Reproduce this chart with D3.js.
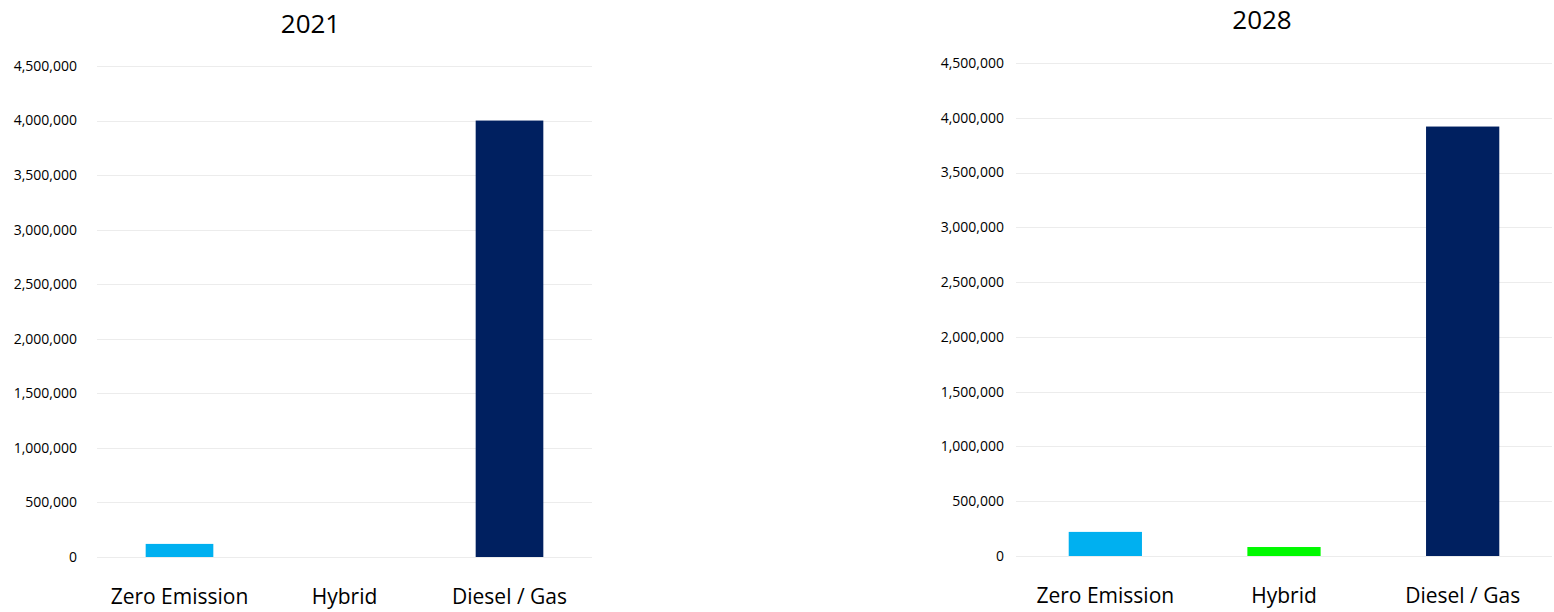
<!DOCTYPE html>
<html>
<head>
<meta charset="utf-8">
<script src="https://cdn.jsdelivr.net/npm/d3@7"></script>
<style>
body { margin: 0; background: #fff; }
svg { font-family: "Open Sans", sans-serif; }
.grid line { stroke: #ececec; stroke-width: 1; }
.tick-label { font-size: 14px; fill: #000; }
.cat-label { font-size: 21px; fill: #000; }
.title { font-size: 26px; fill: #000; }
</style>
</head>
<body>
<script>
const categories = ["Zero Emission", "Hybrid", "Diesel / Gas"]
const values2021 = [120000, 0, 4000000]
const values2028 = [220000, 82000, 3920000]
const yTicks = [0, 500000, 1000000, 1500000, 2000000, 2500000, 3000000, 3500000, 4000000, 4500000]
const barColors = ["#00b0f0", "#00f900", "#002060"]

const width = 1554
const height = 612
const svg = d3.select("body")
    .append("svg")
    .attr("width", width)
    .attr("height", height)

const fmt = d3.format(",")

function drawChart(title, values, box) {
    let x = d3.scaleBand()
        .domain(categories)
        .range([box.left, box.right])
        .paddingInner(0.59)
        .paddingOuter(0.295)
    let y = d3.scaleLinear()
        .domain([0, 4500000])
        .range([box.bottom, box.top])

    let g = svg.append("g")

    g.append("g")
        .attr("class", "grid")
        .selectAll("line")
        .data(yTicks)
        .join("line")
        .attr("x1", box.left)
        .attr("x2", box.right)
        .attr("y1", d => Math.round(y(d)) + 0.5)
        .attr("y2", d => Math.round(y(d)) + 0.5)

    g.append("g")
        .selectAll("text")
        .data(yTicks)
        .join("text")
        .attr("class", "tick-label")
        .attr("x", box.left - box.labelGap)
        .attr("y", d => y(d))
        .attr("dy", "0.35em")
        .attr("text-anchor", "end")
        .text(d => fmt(d))

    g.append("g")
        .selectAll("rect")
        .data(values)
        .join("rect")
        .attr("x", (d, i) => x(categories[i]))
        .attr("width", x.bandwidth())
        .attr("y", d => y(d))
        .attr("height", d => y(0) - y(d))
        .attr("fill", (d, i) => barColors[i])

    g.append("g")
        .selectAll("text")
        .data(categories)
        .join("text")
        .attr("class", "cat-label")
        .attr("x", d => x(d) + x.bandwidth() / 2)
        .attr("y", box.bottom + 47)
        .attr("text-anchor", "middle")
        .text(d => d)

    g.append("text")
        .attr("class", "title")
        .attr("x", (box.left + box.right) / 2 + box.titleShift)
        .attr("y", box.titleY)
        .attr("text-anchor", "middle")
        .text(title)
}

drawChart("2021", values2021, {left: 97, right: 592, top: 66, bottom: 557, labelGap: 20, titleShift: -34, titleY: 33})
drawChart("2028", values2028, {left: 1016, right: 1552, top: 63, bottom: 556, labelGap: 12, titleShift: -22, titleY: 29})
</script>
</body>
</html>
